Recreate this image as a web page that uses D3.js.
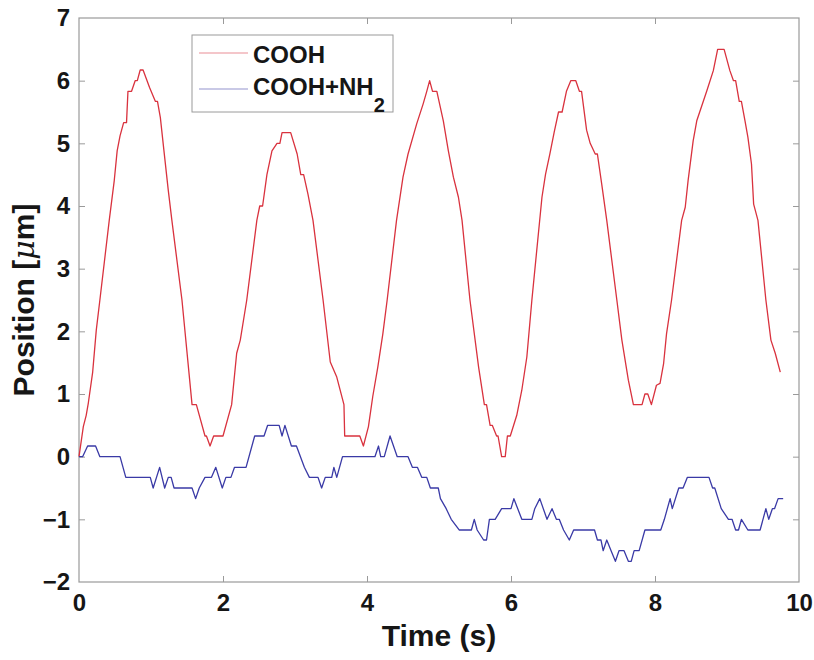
<!DOCTYPE html>
<html>
<head>
<meta charset="utf-8">
<script src="https://cdn.jsdelivr.net/npm/d3@7"></script>
<style>
  html, body { margin: 0; padding: 0; background: #fff; }
  svg { display: block; font-family: "Liberation Sans", Arial, Helvetica, sans-serif; }
</style>
</head>
<body>
<svg id="chart" width="814" height="660"></svg>
<script>
// ---- data ----
const seriesNames = ["COOH", "COOH+NH2"];

const coohTime = [0,0.06,0.10,0.13,0.19,0.24,0.29,0.42,0.49,0.53,0.57,0.62,0.66,0.68,0.73,0.78,0.81,0.85,0.89,0.98,1.06,1.09,1.13,1.18,1.24,1.29,1.43,1.57,1.63,1.75,1.77,1.82,1.87,2.00,2.12,2.19,2.24,2.33,2.47,2.51,2.55,2.61,2.68,2.75,2.79,2.82,2.94,3.03,3.08,3.12,3.18,3.25,3.39,3.49,3.58,3.68,3.69,3.90,3.95,4.02,4.08,4.15,4.22,4.28,4.41,4.50,4.57,4.69,4.78,4.83,4.87,4.91,4.97,5.06,5.13,5.20,5.27,5.32,5.43,5.55,5.63,5.66,5.71,5.74,5.80,5.82,5.87,5.92,5.95,5.99,6.08,6.15,6.22,6.29,6.43,6.48,6.54,6.60,6.66,6.71,6.77,6.83,6.90,6.95,6.98,7.05,7.10,7.17,7.20,7.26,7.33,7.47,7.54,7.63,7.70,7.82,7.86,7.90,7.95,8.02,8.07,8.12,8.16,8.23,8.37,8.42,8.46,8.53,8.58,8.72,8.81,8.87,8.96,9.04,9.09,9.12,9.17,9.20,9.25,9.29,9.34,9.37,9.43,9.54,9.61,9.67,9.74];
const coohPos = [0,0.48,0.66,0.86,1.35,2.02,2.5,3.77,4.41,4.88,5.12,5.33,5.33,5.83,5.83,6.0,6.0,6.17,6.17,5.89,5.67,5.67,5.41,4.88,4.25,3.77,2.5,0.83,0.83,0.33,0.33,0.17,0.33,0.33,0.83,1.65,1.86,2.5,3.77,4.0,4.0,4.5,4.88,5.0,5.0,5.17,5.17,4.83,4.5,4.5,4.19,3.77,2.5,1.51,1.27,0.83,0.33,0.33,0.17,0.48,0.96,1.43,1.96,2.5,3.77,4.46,4.83,5.31,5.63,5.83,6.0,5.83,5.83,5.36,4.88,4.46,4.14,3.77,2.5,1.43,0.83,0.83,0.5,0.5,0.33,0.33,0.0,0.0,0.33,0.33,0.66,1.06,1.59,2.5,4.14,4.51,4.83,5.18,5.5,5.5,5.83,6.0,6.0,5.83,5.83,5.21,5.0,4.83,4.83,4.35,3.77,2.5,1.86,1.22,0.83,0.83,1.0,1.0,0.83,1.14,1.17,1.49,1.96,2.5,3.77,3.98,4.41,5.04,5.36,5.84,6.16,6.5,6.5,6.16,6.0,6.0,5.67,5.67,5.36,5.10,4.67,4.03,3.77,2.5,1.86,1.65,1.35];

const nh2Time = [0,0.05,0.12,0.23,0.29,0.57,0.65,0.99,1.03,1.12,1.19,1.24,1.28,1.32,1.57,1.62,1.67,1.75,1.84,1.90,1.99,2.04,2.11,2.16,2.32,2.44,2.57,2.62,2.78,2.82,2.86,2.95,3.02,3.13,3.20,3.32,3.37,3.42,3.51,3.54,3.58,3.66,4.11,4.16,4.19,4.24,4.32,4.42,4.57,4.63,4.70,4.76,4.83,4.88,4.99,5.02,5.10,5.17,5.28,5.45,5.49,5.53,5.62,5.66,5.70,5.78,5.87,6.00,6.04,6.15,6.29,6.33,6.40,6.50,6.57,6.63,6.67,6.73,6.81,6.87,7.16,7.20,7.25,7.28,7.33,7.39,7.45,7.50,7.57,7.63,7.67,7.71,7.78,7.86,8.08,8.13,8.21,8.24,8.33,8.39,8.45,8.75,8.80,8.83,8.92,9.02,9.07,9.12,9.16,9.20,9.29,9.46,9.54,9.58,9.63,9.66,9.71,9.78];
const nh2Pos = [0,0,0.17,0.17,0,0,-0.33,-0.33,-0.5,-0.17,-0.5,-0.33,-0.33,-0.5,-0.5,-0.67,-0.5,-0.33,-0.33,-0.17,-0.5,-0.33,-0.33,-0.17,-0.17,0.33,0.33,0.5,0.5,0.33,0.5,0.17,0.17,-0.17,-0.33,-0.33,-0.5,-0.33,-0.33,-0.17,-0.33,0,0,0.17,0,0,0.33,0,0,-0.17,-0.17,-0.33,-0.33,-0.5,-0.5,-0.67,-0.83,-1.0,-1.17,-1.17,-1.0,-1.17,-1.33,-1.33,-1.0,-1.0,-0.83,-0.83,-0.67,-1.0,-1.0,-0.83,-0.67,-1.0,-0.83,-1.0,-1.0,-1.17,-1.33,-1.17,-1.17,-1.33,-1.33,-1.5,-1.33,-1.5,-1.67,-1.5,-1.5,-1.67,-1.67,-1.5,-1.5,-1.17,-1.17,-1.0,-0.67,-0.83,-0.5,-0.5,-0.33,-0.33,-0.5,-0.5,-0.83,-1.0,-1.0,-1.17,-1.17,-1.0,-1.17,-1.17,-0.83,-1.0,-0.83,-0.83,-0.67,-0.67];

const xTicks = [0, 2, 4, 6, 8, 10];
const yTicks = [-2, -1, 0, 1, 2, 3, 4, 5, 6, 7];

// ---- layout ----
const svg = d3.select("#chart");
const L = 79, R = 799, T = 18, B = 582;
const x = d3.scaleLinear().domain([0, 10]).range([L, R]);
const y = d3.scaleLinear().domain([-2, 7]).range([B, T]);
const axisColor = "#9a9a9a";
const redColor = "#d9323e";
const blueColor = "#3a3aa6";
const textColor = "#161616";

// box
svg.append("rect").attr("x", L).attr("y", T).attr("width", R - L).attr("height", B - T)
  .attr("fill", "none").attr("stroke", axisColor).attr("stroke-width", 1.2);

// axes (ticks inside)
const fmt = d3.format("d");
const xb = svg.append("g").attr("transform", `translate(0,${B})`)
  .call(d3.axisBottom(x).tickValues(xTicks).tickFormat(fmt).tickSizeInner(-6).tickSizeOuter(0).tickPadding(12));
const xt = svg.append("g").attr("transform", `translate(0,${T})`)
  .call(d3.axisTop(x).tickValues(xTicks).tickFormat("").tickSizeInner(-6).tickSizeOuter(0));
const yl = svg.append("g").attr("transform", `translate(${L},0)`)
  .call(d3.axisLeft(y).tickValues(yTicks).tickFormat(fmt).tickSizeInner(-6).tickSizeOuter(0).tickPadding(9));
const yr = svg.append("g").attr("transform", `translate(${R},0)`)
  .call(d3.axisRight(y).tickValues(yTicks).tickFormat("").tickSizeInner(-6).tickSizeOuter(0));

[xb, xt, yl, yr].forEach(g => {
  g.select(".domain").remove();
  g.selectAll(".tick line").attr("stroke", axisColor).attr("stroke-width", 1);
  g.selectAll(".tick text").attr("fill", textColor).attr("font-size", 24).attr("font-weight", "bold")
    .attr("font-family", "'Liberation Sans', Arial, sans-serif");
});
xb.selectAll(".tick text").attr("dy", "0.7em");
// end ticks coincide with the box edges
[xb, xt].forEach(g => g.selectAll(".tick line").filter(d => d === 0 || d === 10).remove());
[yl, yr].forEach(g => g.selectAll(".tick line").filter(d => d === -2 || d === 7).remove());

// axis labels
svg.append("text").attr("x", (L + R) / 2).attr("y", 646).attr("text-anchor", "middle")
  .attr("font-size", 30).attr("font-weight", "bold").attr("fill", textColor).text("Time (s)");
const yLab = svg.append("text").attr("transform", `translate(34,${(T + B) / 2}) rotate(-90)`)
  .attr("text-anchor", "middle").attr("font-size", 30).attr("font-weight", "bold").attr("fill", textColor);
yLab.append("tspan").text("Position [");
yLab.append("tspan").attr("font-style", "italic").attr("font-weight", "normal").attr("font-family", "'DejaVu Serif', serif").text("μ");
yLab.append("tspan").text("m]");

// lines
const line = d3.line().x(d => x(d[0])).y(d => y(d[1]));
const plot = svg.append("g");
plot.append("path").datum(coohTime.map((t, i) => [t, coohPos[i]]))
  .attr("d", line).attr("fill", "none").attr("stroke", redColor).attr("stroke-width", 1.3).attr("stroke-linejoin", "round");
plot.append("path").datum(nh2Time.map((t, i) => [t, nh2Pos[i]]))
  .attr("d", line).attr("fill", "none").attr("stroke", blueColor).attr("stroke-width", 1.3).attr("stroke-linejoin", "round");

// legend
const lg = svg.append("g");
lg.append("rect").attr("x", 192).attr("y", 35).attr("width", 201).attr("height", 77)
  .attr("fill", "#fff").attr("stroke", axisColor).attr("stroke-width", 1);
const legendColors = [redColor, blueColor];
const legendY = [53, 89];
seriesNames.forEach((name, i) => {
  lg.append("line").attr("x1", 199).attr("x2", 248).attr("y1", legendY[i]).attr("y2", legendY[i])
    .attr("stroke", legendColors[i]).attr("stroke-width", 1).attr("stroke-opacity", 0.55);
});
lg.append("text").attr("x", 253).attr("y", 63).attr("font-size", 24).attr("font-weight", "bold")
  .attr("fill", textColor).text("COOH");
const t2 = lg.append("text").attr("x", 253).attr("y", 95).attr("font-size", 24).attr("font-weight", "bold").attr("fill", textColor);
t2.append("tspan").text("COOH+NH");
t2.append("tspan").attr("font-size", 20).attr("dy", 17).text("2");
</script>
</body>
</html>
